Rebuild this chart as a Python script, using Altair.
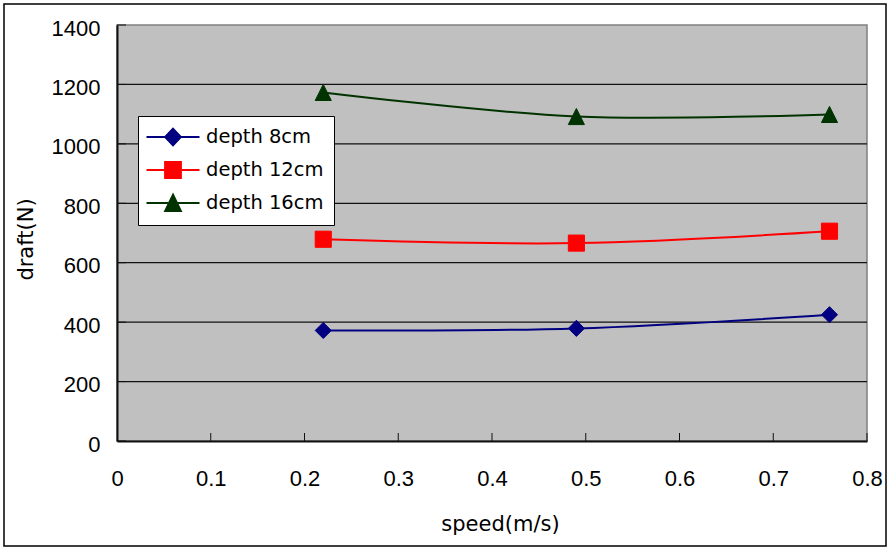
import altair as alt
import pandas as pd

# ---- data ----
speed = [0.22, 0.49, 0.76]
depth_8cm = [372, 379, 425]
depth_12cm = [679, 666, 706]
depth_16cm = [1173, 1092, 1099]
series_names = ["depth 8cm", "depth 12cm", "depth 16cm"]
series_colors = ["#000080", "#FF0000", "#003300"]
x_ticks = [0, 0.1, 0.2, 0.3, 0.4, 0.5, 0.6, 0.7, 0.8]
y_ticks = [0, 200, 400, 600, 800, 1000, 1200, 1400]
grid_values = [200, 400, 600, 800, 1000, 1200]

rows = []
for name, vals in zip(series_names, [depth_8cm, depth_12cm, depth_16cm]):
    for s, v in zip(speed, vals):
        rows.append({"series": name, "speed": s, "draft": v})
df = pd.DataFrame(rows)
xt_df = pd.DataFrame({"speed": x_ticks[1:]})
yt_df = pd.DataFrame({"draft": y_ticks})
grid_df = pd.DataFrame({"draft": grid_values})

W, H = 750, 416
TICK_FONT = "Liberation Sans, Arial, sans-serif"
TITLE_FONT = "DejaVu Sans"
AXIS_COLOR = "#111111"

marker_shapes = ["diamond", "square", "M0,-1L1,1L-1,1Z"]
legend_shapes = [
    "M-2.65,0L2.65,0M0,-0.85L0.8,0L0,0.85L-0.8,0Z",
    "M-2.65,0L2.65,0M-0.8,-0.8L0.8,-0.8L0.8,0.8L-0.8,0.8Z",
    "M-2.65,0L2.65,0M0,-0.85L0.8,0.8L-0.8,0.8Z",
]

x_scale = alt.Scale(domain=[0, 0.8], nice=False, zero=False)
y_scale = alt.Scale(domain=[0, 1400], nice=False)

x_axis = alt.Axis(
    values=x_ticks,
    labelExpr="datum.value == 0 ? '0' : format(datum.value, '.1f')",
    title="speed(m/s)",
    titleFont=TITLE_FONT, titleFontSize=21, titleFontWeight="normal", titleColor="black",
    titleX=383, titleY=89, titleBaseline="alphabetic", titleAlign="center",
    labelFont=TICK_FONT, labelFontSize=22, labelColor="black",
    labelPadding=27, labelFlush=False, labelOverlap=False,
    ticks=False, grid=False,
    domainColor=AXIS_COLOR, domainWidth=2,
)
y_axis = alt.Axis(
    values=y_ticks, format="d",
    title="draft(N)",
    titleFont=TITLE_FONT, titleFontSize=21, titleFontWeight="normal", titleColor="black",
    titleAngle=270, titleX=-85, titleY=214, titleBaseline="alphabetic", titleAlign="center",
    labelFont=TICK_FONT, labelFontSize=22, labelColor="black",
    labelPadding=17, labelOffset=3, labelFlush=False, labelOverlap=False,
    ticks=False, grid=False,
    domainColor=AXIS_COLOR, domainWidth=2,
)

base = alt.Chart(df)

border = alt.Chart(alt.Data(values=[{}])).mark_rect(
    fill="white", fillOpacity=0, stroke="black", strokeWidth=1.5
).encode(
    x=alt.value(-113), x2=alt.value(769), y=alt.value(-21), y2=alt.value(521)
)

grid = alt.Chart(grid_df).mark_rule(color=AXIS_COLOR, strokeWidth=1.2).encode(
    y=alt.Y("draft:Q", scale=y_scale, axis=y_axis),
    x=alt.value(0), x2=alt.value(W),
)

xticks = alt.Chart(xt_df).mark_rule(color=AXIS_COLOR, strokeWidth=1).encode(
    x=alt.X("speed:Q", scale=x_scale, axis=x_axis),
    y=alt.value(H), y2=alt.value(H - 8),
)

yticks = alt.Chart(yt_df).mark_rule(color=AXIS_COLOR, strokeWidth=1).encode(
    y=alt.Y("draft:Q", scale=y_scale, axis=y_axis),
    x=alt.value(0), x2=alt.value(9),
)

lines = base.mark_line(interpolate="catmull-rom", strokeWidth=2).encode(
    x=alt.X("speed:Q", scale=x_scale, axis=x_axis),
    y=alt.Y("draft:Q", scale=y_scale, axis=y_axis),
    stroke=alt.Stroke("series:N", scale=alt.Scale(domain=series_names, range=series_colors), legend=None),
    detail="series:N",
)

points = base.mark_point(filled=True, size=260, opacity=1, strokeWidth=1).encode(
    x=alt.X("speed:Q", scale=x_scale, axis=x_axis),
    y=alt.Y("draft:Q", scale=y_scale, axis=y_axis),
    fill=alt.Fill("series:N", scale=alt.Scale(domain=series_names, range=series_colors), legend=None),
    stroke=alt.Stroke("series:N", scale=alt.Scale(domain=series_names, range=series_colors), legend=None),
    shape=alt.Shape("series:N", scale=alt.Scale(domain=series_names, range=marker_shapes), legend=None),
)

legend_kw = dict(
    title=None, orient="none", legendX=21, legendY=91,
    fillColor="white", strokeColor="black", padding=10,
    symbolSize=400, symbolStrokeWidth=1.8, symbolOffset=14,
    labelOffset=22, rowPadding=8,
    labelFont="DejaVu Sans", labelFontSize=19.5, labelColor="black", labelLimit=300,
)

legend_layer = base.mark_point(filled=True, opacity=1).encode(
    x=alt.X("speed:Q", scale=x_scale, axis=x_axis),
    y=alt.Y("draft:Q", scale=y_scale, axis=y_axis),
    fill=alt.Fill("series:N", scale=alt.Scale(domain=series_names, range=series_colors),
                  sort=series_names, legend=alt.Legend(**legend_kw)),
    stroke=alt.Stroke("series:N", scale=alt.Scale(domain=series_names, range=series_colors),
                      sort=series_names, legend=alt.Legend(**legend_kw)),
    shape=alt.Shape("series:N", scale=alt.Scale(domain=series_names, range=legend_shapes),
                    sort=series_names, legend=alt.Legend(**legend_kw)),
).transform_filter("false")

chart = alt.layer(
    border, grid, xticks, yticks, lines, points, legend_layer
).resolve_scale(
    fill="independent", stroke="independent", shape="independent"
).properties(
    width=W, height=H,
    autosize=alt.AutoSizeParams(type="none"),
    padding={"left": 117, "top": 25, "right": 20, "bottom": 106},
    background="white",
).configure_view(
    fill="#C0C0C0", stroke="#808080", strokeWidth=1.5
)

chart.save("out.html", embed_options={"renderer": "svg", "actions": False})
